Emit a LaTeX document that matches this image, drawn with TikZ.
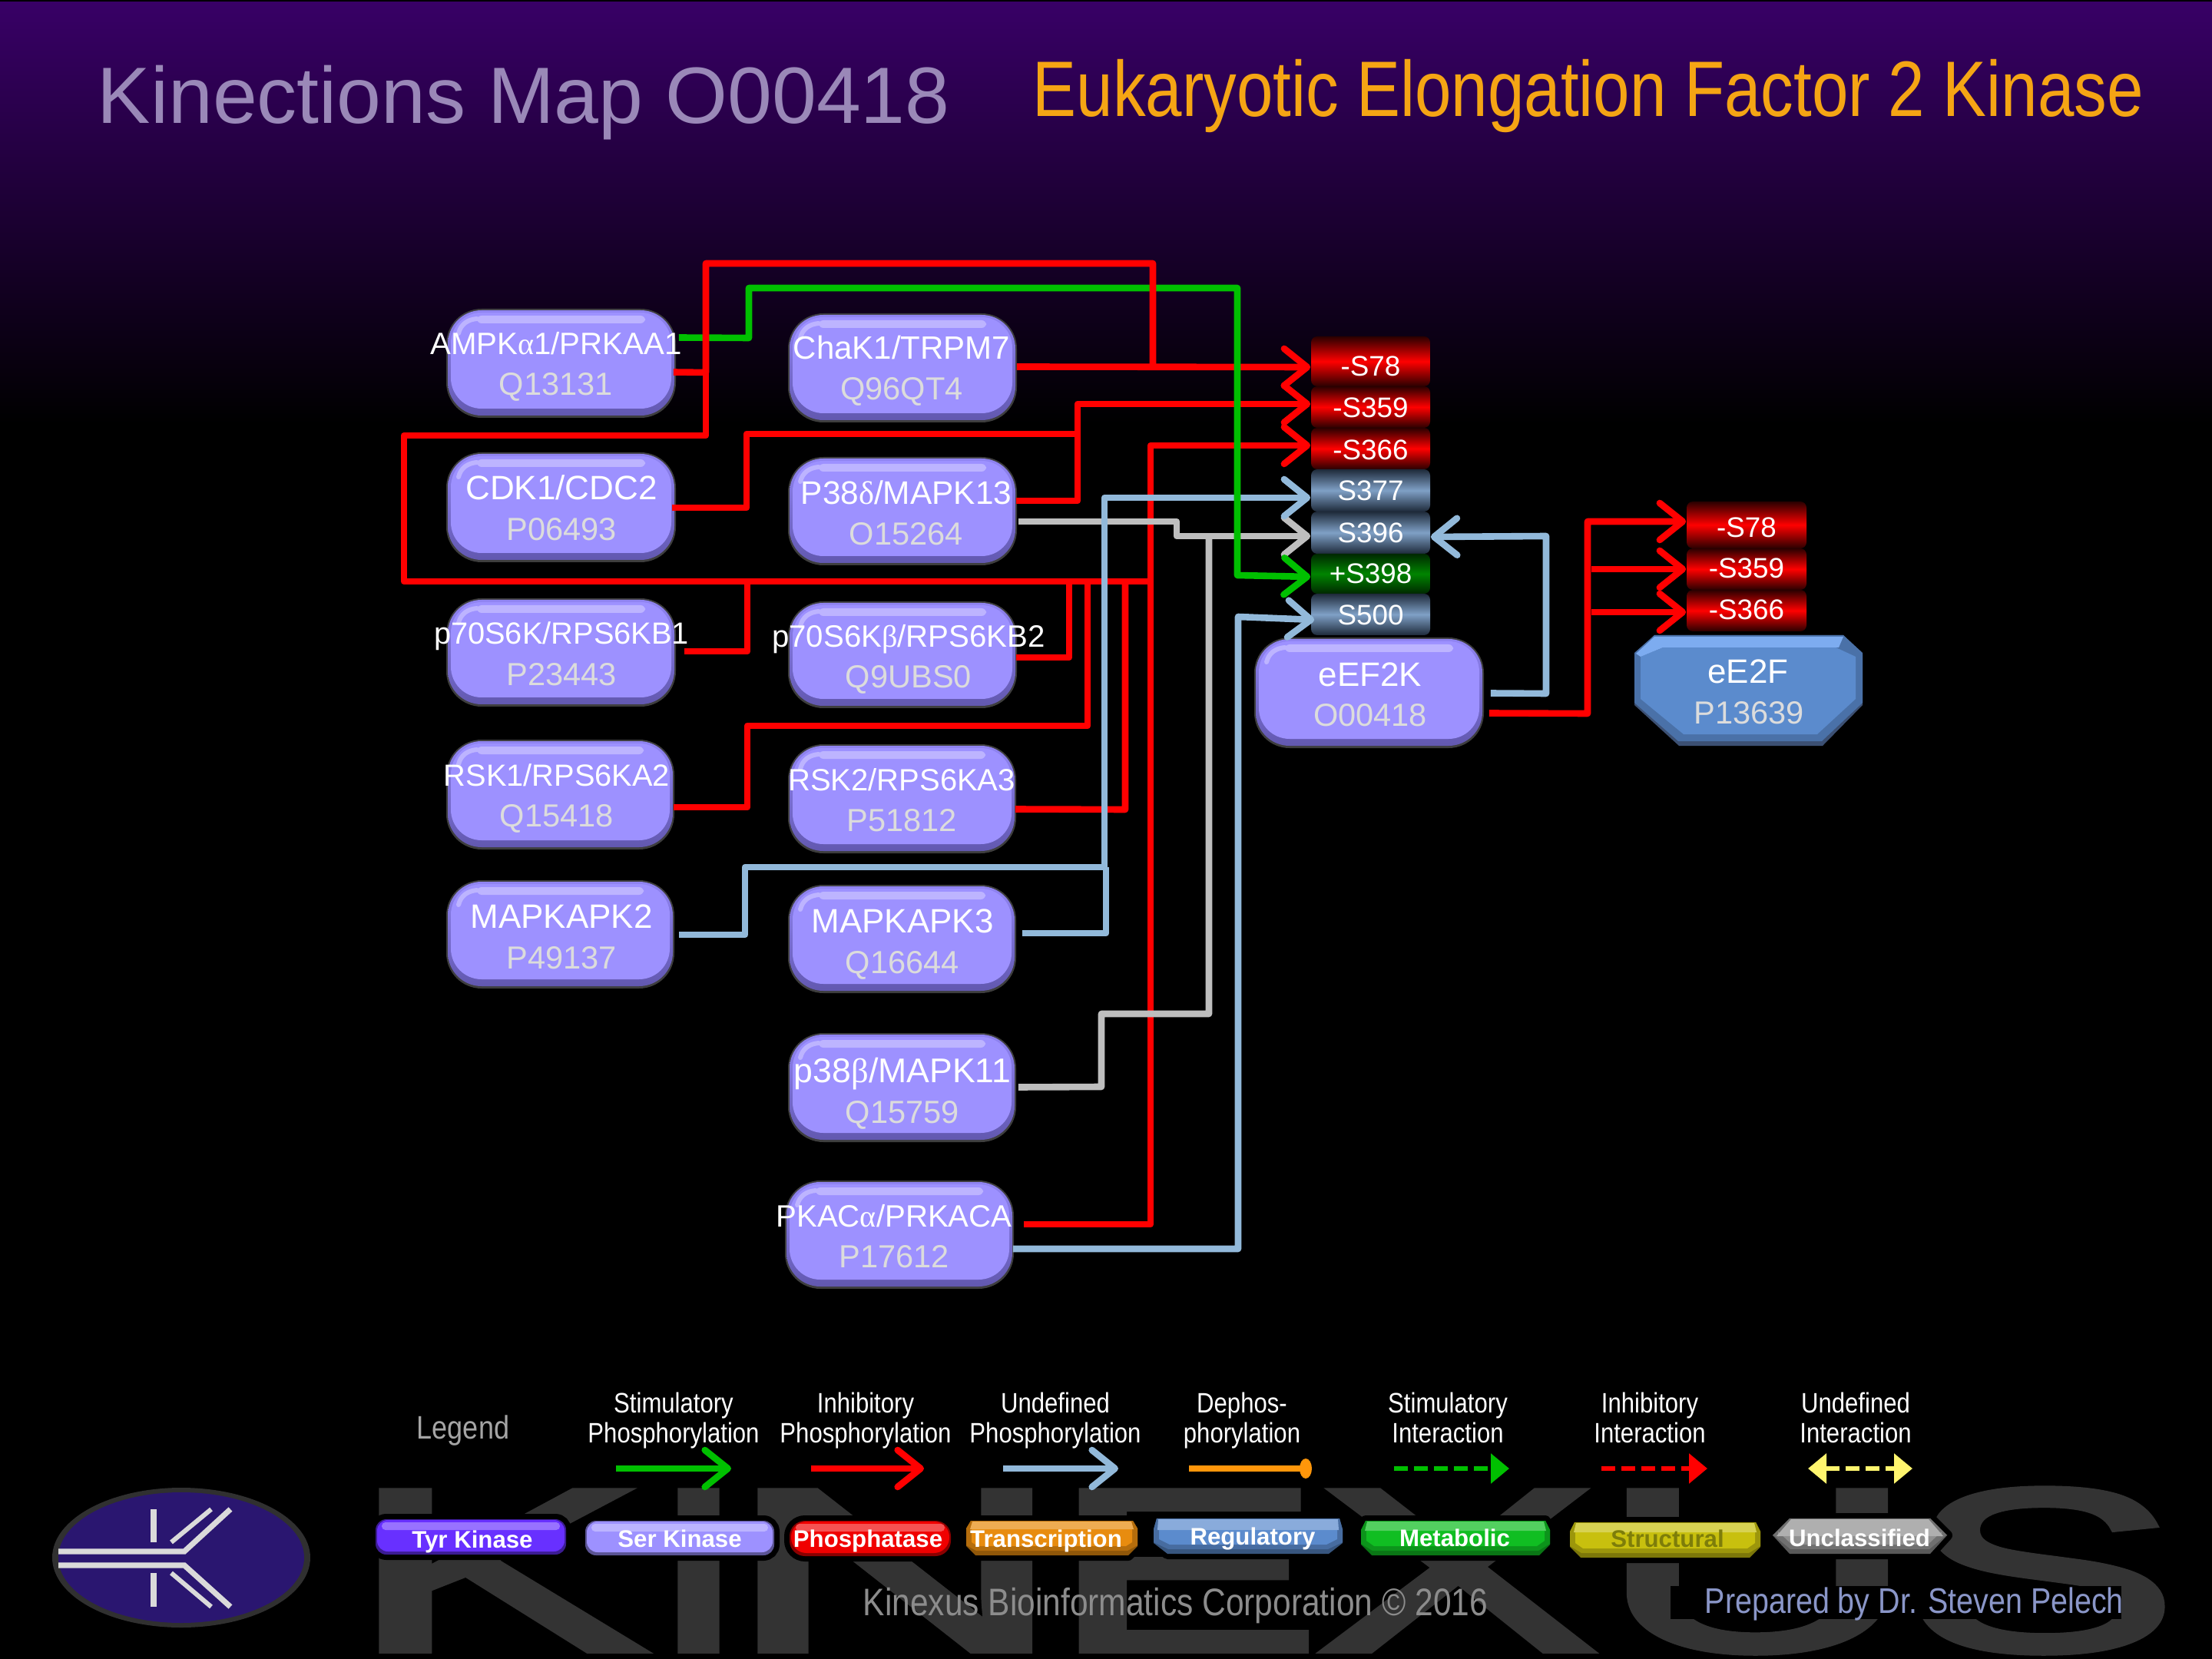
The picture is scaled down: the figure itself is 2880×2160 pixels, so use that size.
\documentclass[tikz,border=0pt]{standalone}
\usepackage{graphicx}
\usepackage{fontspec}
\usetikzlibrary{arrows.meta,calc}
\setmainfont{Liberation Sans}
\newfontfamily\grk{Liberation Serif}
\newfontfamily\nsf[FakeStretch=0.85]{Liberation Sans}
\newfontfamily\ttf[FakeStretch=0.833]{Liberation Sans}
\newfontfamily\bdf{Liberation Sans Bold}
\newfontfamily\wmf[FakeBold=2.5]{Liberation Sans}
\definecolor{kb}{HTML}{9D91FF}
\definecolor{kbt}{HTML}{9084F2}
\definecolor{kbe}{HTML}{6258B0}
\definecolor{kbh}{HTML}{BDB4FF}
\definecolor{kbr}{HTML}{3E3E3E}
\definecolor{idc}{HTML}{DCDCDC}
\definecolor{bll}{HTML}{92B9DA}
\definecolor{gry}{HTML}{BEBEBE}
\definecolor{grn}{HTML}{00C000}
\definecolor{wm}{HTML}{333333}
\definecolor{rdk}{HTML}{2A0000}
\definecolor{rbr}{HTML}{FF0000}
\definecolor{bdk}{HTML}{1E2A3A}
\definecolor{bbr}{HTML}{7FA0C6}
\definecolor{gdk}{HTML}{002800}
\definecolor{gbr}{HTML}{008400}
\definecolor{bgtop}{HTML}{380066}
\definecolor{logoc}{HTML}{2A1670}
\definecolor{logol}{HTML}{DADADA}
\definecolor{ttla}{HTML}{9A88B8}
\definecolor{ttlb}{HTML}{F5A514}
\definecolor{ea}{HTML}{3C5073}
\definecolor{eb}{HTML}{4A71A8}
\definecolor{ec}{HTML}{5B8BCD}
\definecolor{ed}{HTML}{7DACF0}
\definecolor{orng}{HTML}{FF960A}
\definecolor{yel}{HTML}{FFF56E}
\definecolor{pty}{HTML}{6830FF}
\definecolor{ppp}{HTML}{F00000}
\definecolor{ptr}{HTML}{E88C0F}
\definecolor{pme}{HTML}{10BE22}
\definecolor{pst}{HTML}{C8C00E}
\definecolor{pun}{HTML}{909090}
\definecolor{strt}{HTML}{7D7D0A}
\definecolor{lgdc}{HTML}{A5A5A5}
\definecolor{fta}{HTML}{8C8C8C}
\definecolor{ftb}{HTML}{8A96C8}
\def\lsz{11}
\def\lyo{0}
\tikzset{
  arm/.style={line width=2.15pt,line join=round,-{Straight Barb[length=7.5pt,width=12pt,round]}},
  wire/.style={line width=2.15pt,line join=round},
  lbl/.style={text=white,font=\fontsize{\lsz}{12}\selectfont,anchor=base,inner sep=0pt},
  idl/.style={text=idc,font=\fontsize{10.4}{12}\selectfont,anchor=base,inner sep=0pt},
  sitet/.style={text=white,font=\fontsize{9.2}{11}\selectfont,anchor=base,inner sep=0pt},
  lgd/.style={text=white,font=\nsf\fontsize{9.15}{9.9}\selectfont,align=center,inner sep=0pt,anchor=north},
  lgb/.style={text=white,font=\bdf\fontsize{7.8}{9}\selectfont,anchor=base,inner sep=0pt},
  lgdash/.style={line width=1.6pt,dash pattern=on 4.5pt off 2pt},
}
% glossy rounded protein box
\newcommand\kinbox[8]{%
  \fill[kbr,rounded corners=11.5pt] ({#2-2},{#3-2}) rectangle ({#4+2},{#5+3});
  \node[inner sep=0pt,top color=kbt,bottom color=kbe,rounded corners=11pt,minimum width={(#4-#2)*0.25pt},minimum height={(#5-#3)*0.25pt}] (#1) at ({(#2+#4)/2},{(#3+#5)/2}) {};
  \fill[kb,rounded corners=10pt] ({#2+4},{#3+3}) rectangle ({#4-4},{#5-9});
  \fill[kbh,rounded corners=1.5pt] ({#2+38},{#3+7}) rectangle ({#4-38},{#3+17});
  \draw[kbh,line width=1.5pt,line cap=round] ({#2+14},{#3+30}) .. controls ({#2+17},{#3+18}) and ({#2+26},{#3+12}) .. ({#2+38},{#3+11});
  \node[lbl] (#1-t) at (#8,{#3+58+\lyo}) {#6};
  \node[idl] (#1-i) at (#8,{#3+111+\lyo}) {#7};
}
% site band
\newcommand\site[9]{%
  \node[inner sep=0pt,rounded corners=2pt,top color=#6,bottom color=#6,middle color=#7,minimum width={(#4-#2)*0.25pt},minimum height={(#5-#3)*0.25pt}] (#1) at ({(#2+#4)/2},{(#3+#5)/2}) {};
  \node[sitet] (#1-t) at ({(#2+#4)/2},{#9+15}) {#8};
}
% chamfered legend plate: x1,y1,x2,y2,top chamfer,side top, bottom chamfer,side bottom,colour
\newcommand\plate[9]{%
  \fill[black,line width=3.5pt,draw=black,line join=round] ({#1+#5},#2) -- ({#3-#5},#2) -- (#3,{#2+#6}) -- (#3,{#4-#8}) -- ({#3-#7},#4) -- ({#1+#7},#4) -- (#1,{#4-#8}) -- (#1,{#2+#6}) -- cycle;
  \fill[#9!62!black] ({#1+#5},#2) -- ({#3-#5},#2) -- (#3,{#2+#6}) -- (#3,{#4-#8}) -- ({#3-#7},#4) -- ({#1+#7},#4) -- (#1,{#4-#8}) -- (#1,{#2+#6}) -- cycle;
  \fill[#9!78!black] ({#1+#5},{#2}) -- ({#3-#5},#2) -- (#3,{#2+#6}) -- (#3,{#4-#8-1}) -- ({#3-#7-1},{#4-6}) -- ({#1+#7+1},{#4-6}) -- (#1,{#4-#8-1}) -- (#1,{#2+#6}) -- cycle;
  \fill[#9] ({#1+#5+3},{#2+4}) -- ({#3-#5-3},{#2+4}) -- ({#3-7},{#2+#6+2}) -- ({#3-7},{#4-#8-5}) -- ({#3-#7-3},{#4-12}) -- ({#1+#7+3},{#4-12}) -- ({#1+7},{#4-#8-5}) -- ({#1+7},{#2+#6+2}) -- cycle;
  \fill[#9!72!white] ({#1+#5+2},{#2+1}) -- ({#3-#5-2},{#2+1}) -- ({#3-5},{#2+#6+1}) -- ({#1+5},{#2+#6+1}) -- cycle;
}
% rounded legend plate
\newcommand\rplate[6]{%
  \fill[black,rounded corners=#6,draw=black,line width=3.5pt] (#1,#2) rectangle (#3,#4);
  \fill[#5!58!black,rounded corners=#6] (#1,#2) rectangle (#3,#4);
  \fill[#5,rounded corners=#6] ({#1+2},{#2+1}) rectangle ({#3-2},{#4-4});
  \fill[#5!68!white,rounded corners=1.2pt] ({#1+8},{#2+4}) rectangle ({#3-8},{#2+14});
}
% one watermark letter: pen position, horizontal scale, glyph
\newcommand\wml[3]{\rlap{\kern#1pt\scalebox{#2}[1]{#3}}}
\begin{document}
\begin{tikzpicture}[x=0.25pt,y=-0.25pt]
\useasboundingbox (0,0) rectangle (2880,2160);
% background
\fill[black] (0,0) rectangle (2880,2160);
\shade[top color=bgtop,bottom color=black] (0,3) rectangle (2880,552);
% watermark
\node[text=wm,font=\wmf\fontsize{75.5}{76}\selectfont,anchor=base west,inner sep=0pt] (wmk) at (0,2149) {\wml{112.5}{1.93}{K}\wml{210.75}{1.52}{I}\wml{235.25}{2.03}{N}\wml{341.25}{1.75}{E}\wml{427.75}{1.82}{X}\wml{519.5}{1.9}{U}\wml{619.75}{1.76}{S}};
% logo
\fill[black!62,opacity=.5] (236,2028) ellipse [x radius=168,y radius=91];
\fill[logoc] (236,2028) ellipse [x radius=160,y radius=85];
\begin{scope}[draw=logol,line join=miter]
\draw[line width=1.8pt] (76,2020) -- (240,2020) -- (300,1965);
\draw[line width=1.8pt] (76,2038) -- (240,2038) -- (300,2092);
\draw[line width=1.5pt] (223,2008) -- (275,1965);
\draw[line width=1.5pt] (223,2048) -- (275,2092);
\draw[line width=1.8pt] (200,1965) -- (200,2008);
\draw[line width=1.8pt] (200,2048) -- (200,2092);
\end{scope}
% titles
\node[text=ttla,font=\fontsize{26}{30}\selectfont,anchor=base west,inner sep=0pt] (ttl) at (126,161) {Kinections Map O00418};
\node[text=ttlb,font=\ttf\fontsize{25.6}{30}\selectfont,anchor=base west,inner sep=0pt] (ttr) at (1344,152) {Eukaryotic Elongation Factor 2 Kinase};
% protein boxes
\def\lsz{10.05}\kinbox{ampk}{583}{404}{878}{541}{AMPK{\grk α}1/PRKAA1}{Q13131}{724}
\def\lsz{10.5}\kinbox{chak}{1028}{410}{1322}{547}{ChaK1/TRPM7}{Q96QT4}{1174}
\def\lyo{2}\def\lsz{11}\kinbox{cdk}{583}{591}{878}{729}{CDK1/CDC2}{P06493}{731}
\def\lsz{10.6}\kinbox{ptd}{1028}{597}{1322}{733}{P38{\grk δ}/MAPK13}{O15264}{1180}
\def\lyo{0}\def\lsz{9.95}\kinbox{ps}{583}{781}{878}{917}{p70S6K/RPS6KB1}{P23443}{731}
\def\lsz{10.05}\kinbox{psb}{1028}{785}{1322}{919}{p70S6K{\grk β}/RPS6KB2}{Q9UBS0}{1183}
\def\lsz{9.95}\kinbox{rsk}{583}{965}{876}{1103}{RSK1/RPS6KA2}{Q15418}{725}
\def\lsz{10}\kinbox{rskb}{1028}{971}{1321}{1108}{RSK2/RPS6KA3}{P51812}{1174}
\def\lyo{2}\def\lsz{11}\kinbox{mk}{583}{1148}{876}{1284}{MAPKAPK2}{P49137}{731}
\def\lsz{11}\kinbox{mkb}{1028}{1154}{1321}{1290}{MAPKAPK3}{Q16644}{1175}
\def\lyo{4}\def\lsz{11.15}\kinbox{ptb}{1028}{1347}{1321}{1484}{p38{\grk β}/MAPK11}{Q15759}{1175}
\def\lyo{0}\def\lsz{10.05}\kinbox{pka}{1024}{1539}{1318}{1675}{PKAC{\grk α}/PRKACA}{P17612}{1164}
\def\lyo{3}\def\lsz{11}\kinbox{eef}{1635}{832}{1930}{971}{eEF2K}{O00418}{1784}
\def\lyo{0}
% eE2F
\fill[ea] (2154,827) -- (2400,827) -- (2425,852) -- (2425,918) -- (2373,971) -- (2186,971) -- (2128,918) -- (2128,852) -- cycle;
\fill[eb] (2154,827) -- (2400,827) -- (2425,850) -- (2425,915) -- (2372,965) -- (2185,965) -- (2128,915) -- (2128,850) -- cycle;
\fill[ec] (2168,842) -- (2388,842) -- (2416,855) -- (2416,910) -- (2366,956) -- (2192,956) -- (2136,910) -- (2136,855) -- cycle;
\fill[ed] (2154,829) -- (2400,829) -- (2394,843) -- (2165,843) -- (2136,855) -- (2130,851) -- cycle;
\node[lbl] (ee2f-t) at (2276,889) {eE2F};
\node[idl] (ee2f-i) at (2277,943) {P13639};
% sites
\site{sa}{1707}{438}{1862}{503}{rdk}{rbr}{-S78}{475}
\site{sb}{1707}{503}{1862}{557}{rdk}{rbr}{-S359}{529}
\site{sc}{1707}{557}{1862}{611}{rdk}{rbr}{-S366}{584}
\site{sd}{1707}{611}{1862}{666}{bdk}{bbr}{S377}{637}
\site{se}{1707}{666}{1862}{721}{bdk}{bbr}{S396}{692}
\site{sf}{1707}{721}{1862}{773}{gdk}{gbr}{+S398}{745}
\site{sg}{1707}{773}{1862}{827}{bdk}{bbr}{S500}{799}
\site{ta}{2196}{653}{2352}{714}{rdk}{rbr}{-S78}{685}
\site{tb}{2196}{714}{2352}{768}{rdk}{rbr}{-S359}{738}
\site{tc}{2196}{768}{2352}{822}{rdk}{rbr}{-S366}{792}
% red connectors
\draw[arm,red] (chak.east) ++(1,-1) -- (sa.west |- 0,478);
\draw[arm,red] (cdk.east) ++(-4,1) -- (972,661) -- (972,565) -- (1403,565) -- (1403,526) -- (sb.west |- 0,526);
\draw[wire,red] (ptd.east) ++(0,-13) -- (1403,652) -- (1403,565);
\draw[arm,red] (pka.east) ++(14,-13) -- (1498,1594) -- (1498,580) -- (sc.west |- 0,580);
\draw[wire,red] (ps.east) ++(12,-1) -- (973,848) -- (973,757);
\draw[wire,red] (psb.east) ++(0,4) -- (1392,856) -- (1392,757);
\draw[wire,red] (rsk.east) ++(0,17) -- (973,1051) -- (973,945) -- (1416,945) -- (1416,757);
\draw[wire,red] (rskb.east) ++(0,14) -- (1465,1054) -- (1465,757);
\draw[wire,red] (919,485) -- (919,567) -- (526,567) -- (526,757) -- (1498,757);
% grey connectors
\draw[arm,gry] (ptd.east) ++(3,14) -- (1532,679) -- (1532,698) -- (se.west |- 0,698);
\draw[wire,gry] (ptb.east) ++(4,0) -- (1434,1415) -- (1434,1320) -- (1574,1320) -- (1574,698);
% blue connectors
\draw[arm,bll] (mk.east) ++(7,1) -- (970,1217) -- (970,1129) -- (1438,1129) -- (1438,648) -- (sd.west |- 0,648);
\draw[wire,bll] (mkb.east) ++(9,-7) -- (1440,1215) -- (1440,1129);
\draw[arm,bll] (pka.east) ++(0,19) -- (1612,1626) -- (1612,803) -- ($(sg.west)+(5,7)$);
\draw[arm,bll] (eef.east) ++(10,1) -- (2013,903) -- (2013,698) -- (se.east |- 0,699);
% green connector
\draw[arm,grn] (ampk.east) ++(5,-33) -- (975,440) -- (975,375) -- (1611,375) -- (1611,749) -- (sf.west |- 0,751);
% red over green at the AMPK exit
\draw[wire,red] (ampk.east) ++(-2,12) -- (919,485) -- (919,343) -- (1501,343) -- (1501,478);
% eEF2K to eE2F
\draw[arm,red] (eef.east) ++(8,27) -- (2067,929) -- (2067,679) -- (ta.west |- 0,679);
\draw[arm,red] (2072,741) -- (tb.west |- 0,741);
\draw[arm,red] (2072,797) -- (tc.west |- 0,797);
% legend
\node[text=lgdc,font=\nsf\fontsize{10.6}{12}\selectfont,inner sep=0pt] (lgtitle) at (603,1863) {Legend};
\node[lgd] (l1) at (877,1812) {Stimulatory\\Phosphorylation};
\node[lgd] (l2) at (1127,1812) {Inhibitory\\Phosphorylation};
\node[lgd] (l3) at (1374,1812) {Undefined\\Phosphorylation};
\node[lgd] (l4) at (1617,1812) {Dephos-\\phorylation};
\node[lgd] (l5) at (1885,1812) {Stimulatory\\Interaction};
\node[lgd] (l6) at (2148,1812) {Inhibitory\\Interaction};
\node[lgd] (l7) at (2416,1812) {Undefined\\Interaction};
\coordinate (a1) at (802,1912); \coordinate (b1) at (952,1912);
\coordinate (a2) at (1056,1912); \coordinate (b2) at (1203,1912);
\coordinate (a3) at (1306,1912); \coordinate (b3) at (1456,1912);
\coordinate (a4) at (1548,1912); \coordinate (b4) at (1700,1912);
\coordinate (a5) at (1815,1912); \coordinate (b5) at (1965,1912);
\coordinate (a6) at (2085,1912); \coordinate (b6) at (2223,1912);
\coordinate (a7) at (2354,1912); \coordinate (b7) at (2490,1912);
\draw[arm,grn] (a1) -- (b1);
\draw[arm,red] (a2) -- (b2);
\draw[arm,bll] (a3) -- (b3);
\draw[line width=1.8pt,orng] (a4) -- (b4);
\fill[orng] (b4) ellipse [x radius=8,y radius=13];
\draw[lgdash,grn,-{Triangle[length=6pt,width=9.5pt]}] (a5) -- (b5);
\draw[lgdash,red,-{Triangle[length=6pt,width=9.5pt]}] (a6) -- (b6);
\draw[lgdash,yel,{Triangle[length=6pt,width=9.5pt]}-{Triangle[length=6pt,width=9.5pt]}] (a7) -- (b7);
% legend plates
\rplate{489}{1978}{737}{2024}{pty}{3.5pt}
\rplate{762}{1980}{1008}{2025}{kb}{3.5pt}
\rplate{1028}{1980}{1238}{2026}{ppp}{5pt}
\plate{1258}{1980}{1481}{2025}{6}{10}{12}{12}{ptr}
\plate{1502}{1977}{1748}{2023}{4}{14}{18}{14}{ec}
\plate{1772}{1980}{2018}{2025}{6}{12}{14}{14}{pme}
\plate{2044}{1982}{2292}{2028}{6}{12}{14}{14}{pst}
\plate{2308}{1977}{2535}{2023}{22}{22}{22}{24}{pun}
\node[lgb] (p1) at (615,2015) {Tyr Kinase};
\node[lgb] (p2) at (885,2014) {Ser Kinase};
\node[lgb] (p3) at (1130,2014) {Phosphatase};
\node[lgb] (p4) at (1362,2014) {Transcription};
\node[lgb] (p5) at (1631,2011) {Regulatory};
\node[lgb] (p6) at (1894,2013) {Metabolic};
\node[lgb,text=strt] (p7) at (2171,2014) {Structural};
\node[lgb] (p8) at (2421,2013) {Unclassified};
% footer
\fill[black] (2175,2065) rectangle (2762,2108);
\node[text=fta,font=\nsf\fontsize{12.5}{14}\selectfont,anchor=base west,inner sep=0pt] (fa) at (1123,2103) {Kinexus Bioinformatics Corporation © 2016};
\node[text=ftb,font=\nsf\fontsize{11.6}{14}\selectfont,anchor=base west,inner sep=0pt] (fb) at (2219,2100) {Prepared by Dr. Steven Pelech};
\end{tikzpicture}
\end{document}
